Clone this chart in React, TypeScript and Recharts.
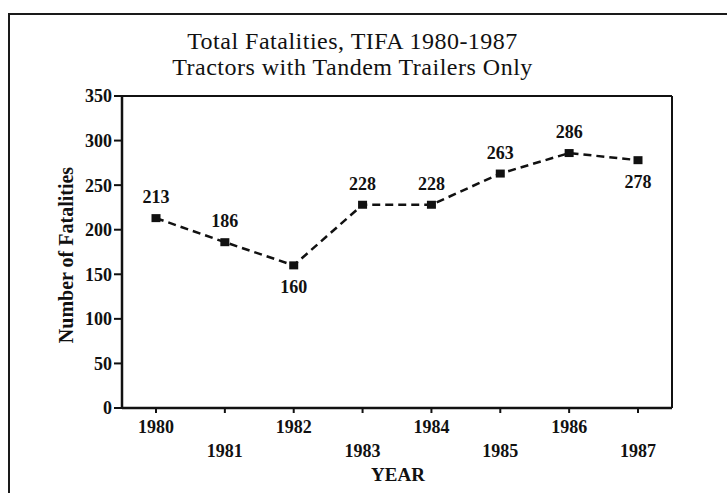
import { LineChart, Line, XAxis, YAxis, ReferenceLine, LabelList } from 'recharts';

const YEARS = ['1980', '1981', '1982', '1983', '1984', '1985', '1986', '1987'];
const FATALITIES = [213, 186, 160, 228, 228, 263, 286, 278];
const Y_TICKS = [0, 50, 100, 150, 200, 250, 300, 350];
// years whose value label sits under the point instead of above it
const LABEL_BELOW = ['1982', '1987'];

const TITLE = ['Total Fatalities, TIFA 1980-1987', 'Tractors with Tandem Trailers Only'];

const FONT = '"Liberation Serif", "Times New Roman", serif';
const INK = '#111';

const data = YEARS.map((year, i) => ({ year, fatalities: FATALITIES[i] }));

function YearTick(props: any) {
  const { x, y, payload } = props;
  const row = YEARS.indexOf(String(payload.value)) % 2;
  return (
    <text
      x={x}
      y={y + (row ? 44 : 20)}
      textAnchor="middle"
      fill={INK}
      fontFamily={FONT}
      fontWeight="bold"
      fontSize={18}
    >
      {payload.value}
    </text>
  );
}

function SquareDot(props: any) {
  const { cx, cy } = props;
  if (cx == null || cy == null) return null;
  return <rect x={cx - 4.5} y={cy - 4} width={9} height={8} fill={INK} />;
}

function ValueLabel(props: any) {
  const { x, y, value, index } = props;
  const below = LABEL_BELOW.includes(YEARS[index]);
  return (
    <text
      x={x}
      y={y + (below ? 28 : -15)}
      textAnchor="middle"
      fill={INK}
      fontFamily={FONT}
      fontWeight="bold"
      fontSize={18}
    >
      {value}
    </text>
  );
}

export default function App() {
  return (
    <div style={{ position: 'relative', width: 727, height: 493, background: '#fff', overflow: 'hidden' }}>
      <style>{'body{margin:0}'}</style>
      <div
        style={{
          position: 'absolute',
          left: 7.5,
          top: 12.8,
          width: 760,
          height: 520,
          borderTop: '2.5px solid #1a1a1a',
          borderLeft: '2.5px solid #1a1a1a',
        }}
      />
      <LineChart
        width={727}
        height={493}
        data={data}
        margin={{ top: 96, right: 54, bottom: 25, left: 62 }}
      >
        <XAxis
          dataKey="year"
          padding={{ left: 34, right: 34 }}
          height={60}
          axisLine={{ stroke: INK, strokeWidth: 2.5 }}
          tickLine={{ stroke: INK, strokeWidth: 2 }}
          tickSize={5}
          tickMargin={0}
          interval={0}
          tick={<YearTick />}
        />
        <YAxis
          domain={[0, 350]}
          ticks={Y_TICKS}
          width={60}
          axisLine={{ stroke: INK, strokeWidth: 2.5 }}
          tickLine={{ stroke: INK, strokeWidth: 2 }}
          tickSize={8}
          tickMargin={2}
          tick={{ fill: INK, fontSize: 18, fontWeight: 'bold', fontFamily: FONT }}
        />
        <YAxis
          yAxisId="frame"
          orientation="right"
          width={1}
          domain={[0, 350]}
          tick={false}
          tickLine={false}
          axisLine={{ stroke: INK, strokeWidth: 2 }}
        />
        <ReferenceLine y={350} stroke={INK} strokeWidth={2} ifOverflow="visible" />
        <Line
          type="linear"
          dataKey="fatalities"
          stroke={INK}
          strokeWidth={2.5}
          strokeDasharray="8 5"
          dot={<SquareDot />}
          activeDot={false}
          isAnimationActive={false}
        >
          <LabelList dataKey="fatalities" content={<ValueLabel />} />
        </Line>
      </LineChart>
      <svg
        width={727}
        height={493}
        style={{ position: 'absolute', left: 0, top: 0, pointerEvents: 'none' }}
      >
        <text x={352.5} y={49} textAnchor="middle" fill={INK} fontFamily={FONT} fontSize={24} letterSpacing={0.5}>
          {TITLE[0]}
        </text>
        <text x={352.5} y={75} textAnchor="middle" fill={INK} fontFamily={FONT} fontSize={24} letterSpacing={0.5}>
          {TITLE[1]}
        </text>
        <text
          x={73}
          y={255}
          transform="rotate(-90 73 255)"
          textAnchor="middle"
          fill={INK}
          fontFamily={FONT}
          fontWeight="bold"
          fontSize={20}
        >
          Number of Fatalities
        </text>
        <text x={398} y={481} textAnchor="middle" fill={INK} fontFamily={FONT} fontWeight="bold" fontSize={19}>
          YEAR
        </text>
      </svg>
    </div>
  );
}
